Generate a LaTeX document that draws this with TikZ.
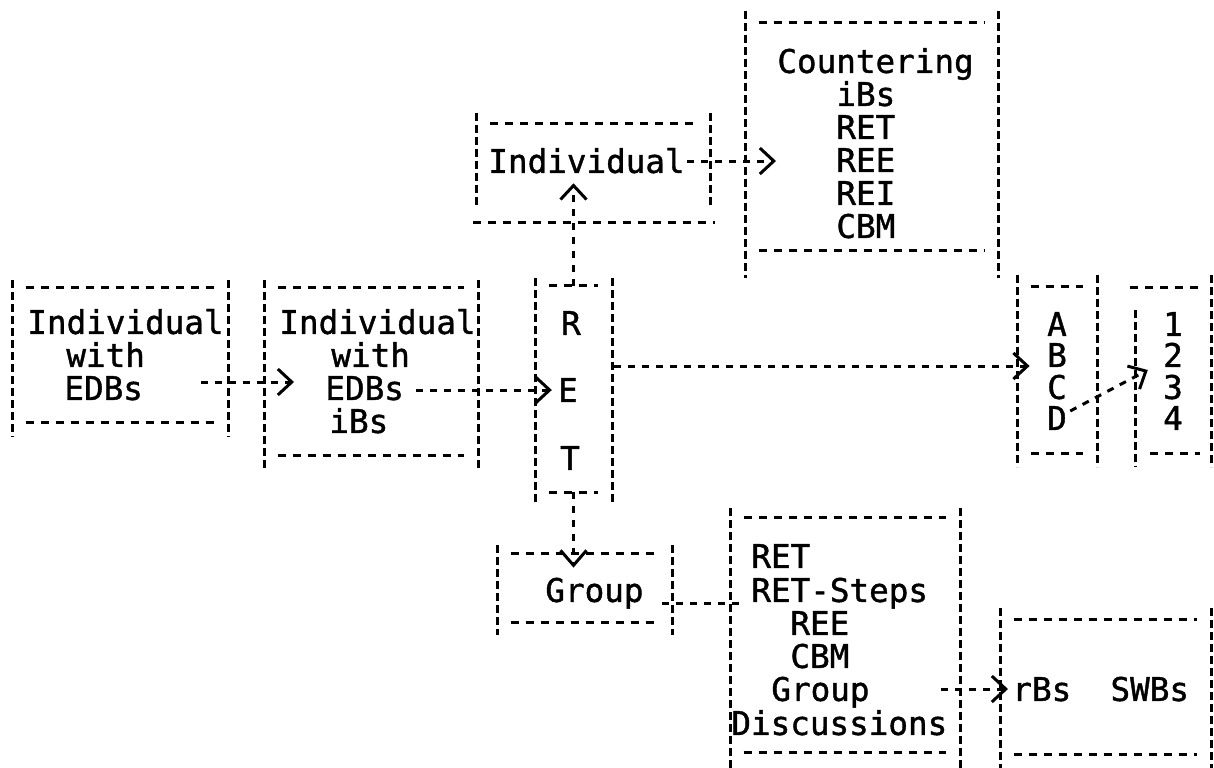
\documentclass[tikz,border=0pt]{standalone}
\usepackage{fontspec}
\newfontfamily\dmfont{DejaVu Sans Mono}[FakeBold=1.2]
\newcommand\dm{\dmfont\fontsize{16.3pt}{20pt}\selectfont}
\usetikzlibrary{arrows.meta,calc,fit}

\tikzset{
  vside/.style={line width=1.5pt, dash pattern=on 4pt off 2pt},
  hside/.style={line width=1.5pt, dash pattern=on 4pt off 3.5pt},
  conn/.style={line width=1.5pt, dash pattern=on 3.5pt off 3.5pt},
  arr/.style={-{Straight Barb[length=7pt,width=13pt,line width=1.5pt]}},
  txt/.style={font=\dm, inner sep=0pt, text height=11.9pt, text depth=0pt, anchor=west},
  chr/.style={txt, anchor=center},
  bx/.style={inner sep=0pt, draw=none}
}

% dashed frame: name, left x, right x, top rule y, bottom rule y, side top y, side bottom y
\newcommand\dframe[7]{%
  \node[bx, fit={(#2,#4)(#3,#5)}] (#1) {};
  \draw[vside] (#2,#6) -- (#2,#7);
  \draw[vside] (#3,#6) -- (#3,#7);
  \draw[hside] ($(#1.north west)+(14,0)$) -- ($(#1.north east)+(-14,0)$);
  \draw[hside] ($(#1.south west)+(14,0)$) -- ($(#1.south east)+(-14,0)$);
}

\begin{document}
\begin{tikzpicture}[x=0.5pt, y=-0.5pt]
\fill[white] (0,0) rectangle (1214,767);
\useasboundingbox (0,0) rectangle (1214,767);

% frames
\dframe{bxA}{12}{228}{288}{422}{280}{437}
\dframe{bxB}{264}{478}{288}{455}{280}{470}
\dframe{bxR}{535}{612}{286}{492}{278}{505}
\dframe{bxC}{745}{998}{23}{250}{11}{278}
\dframe{bxL}{1017}{1097}{287}{453}{275}{467}
\dframe{bxG}{497}{672}{554}{622}{545}{635}
\dframe{bxS}{730}{960}{518}{752}{508}{775}
\dframe{bxW}{1000}{1211}{620}{754}{608}{775}

% upper "Individual" frame: bottom rule runs past the sides
\node[bx, fit={(476,123)(710,222)}] (bxI) {};
\draw[vside] (476,113) -- (476,207);
\draw[vside] (710,113) -- (710,207);
\draw[hside] (490,123) -- (696,123);
\draw[hside] (473,222) -- (715,222);

% number frame: left side starts low, top rule starts early
\node[bx, fit={(1135,287)(1211,453)}] (bxN) {};
\draw[vside] (1135,310) -- (1135,467);
\draw[vside] (1211,275) -- (1211,467);
\draw[hside] (1130,287) -- (1200,287);
\draw[hside] (1150,453) -- (1200,453);

% texts
\node[txt] (a1) at (27,322) {Individual};
\node[txt] (a2) at (66,355) {with};
\node[txt] (a3) at (64,388) {EDBs};

\node[txt] (b1) at (279,322) {Individual};
\node[txt] (b2) at (331,355) {with};
\node[txt] (b3) at (325,388) {EDBs};
\node[txt] (b4) at (329,421) {iBs};

\node[chr] (r1) at (571,323) {R};
\node[chr] (r2) at (568,390) {E};
\node[chr] (r3) at (570,458) {T};

\node[txt] (i1) at (488,161) {Individual};

\node[txt] (c1) at (777,61) {Countering};
\node[txt] (c2) at (836,94) {iBs};
\node[txt] (c3) at (836,127) {RET};
\node[txt] (c4) at (836,160) {REE};
\node[txt] (c5) at (836,193) {REI};
\node[txt] (c6) at (836,226) {CBM};

\node[chr] (l1) at (1057,324) {A};
\node[chr] (l2) at (1057,355) {B};
\node[chr] (l3) at (1057,387) {C};
\node[chr] (l4) at (1057,418) {D};

\node[chr] (n1) at (1173,324) {1};
\node[chr] (n2) at (1173,355) {2};
\node[chr] (n3) at (1173,387) {3};
\node[chr] (n4) at (1173,418) {4};

\node[txt] (g1) at (545,590) {Group};

\node[txt] (s1) at (751,556) {RET};
\node[txt] (s2) at (751,590) {RET-Steps};
\node[txt] (s3) at (790,623) {REE};
\node[txt] (s4) at (790,656) {CBM};
\node[txt] (s5) at (771,689) {Group};
\node[txt] (s6) at (731,723) {Discussions};

\node[txt] (w1) at (1012,689) {rBs\phantom{xx}SWBs};

% connectors
\draw[conn,arr] ($(a3.east)+(58,-6)$) -- ($(b3.west)+(-31,-6)$);
\draw[conn,arr] ($(b3.east)+(12,2)$) -- ($(r2.west)+(-6,0)$);
\draw[conn,arr] ($(bxR.east)+(2,-23)$) -- ($(bxL.west)+(13,-4)$);
\draw[conn,arr] ($(l4.east)+(3,-7)$) -- ($(n3.west)+(-15,-17)$);
\draw[conn,arr] ($(i1.east)+(2,0)$) -- ($(c4.west)+(-60,1)$);
\draw[conn,arr] (bxR.north) -- ($(bxR.north |- i1.south)+(0,10)$);
\draw[conn,-{Straight Barb[length=7.5pt,width=13pt,line width=1.5pt]}]
  (bxR.south) -- ($(bxR.south |- bxG.north)+(0,14)$);
\draw[conn] ($(bxG.east)+(-10,15)$) -- ($(bxG.east -| bxS.west)+(15,15)$);
\draw[conn,arr] ($(s5.east)+(71,0)$) -- ($(w1.west)+(-4,0)$);
\end{tikzpicture}
\end{document}
